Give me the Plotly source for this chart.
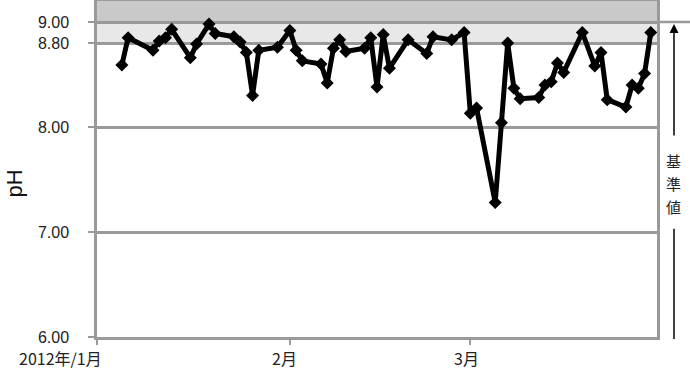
import plotly.graph_objects as go

dates = [
    "2012-01-05", "2012-01-06", "2012-01-10", "2012-01-11", "2012-01-12", "2012-01-13",
    "2012-01-16", "2012-01-17", "2012-01-19", "2012-01-20", "2012-01-23", "2012-01-24",
    "2012-01-25", "2012-01-26", "2012-01-27", "2012-01-30", "2012-02-01", "2012-02-02",
    "2012-02-03", "2012-02-06", "2012-02-07", "2012-02-08", "2012-02-09", "2012-02-10",
    "2012-02-13", "2012-02-14", "2012-02-15", "2012-02-16", "2012-02-17", "2012-02-20",
    "2012-02-23", "2012-02-24", "2012-02-27", "2012-02-29", "2012-03-01", "2012-03-02",
    "2012-03-05", "2012-03-06", "2012-03-07", "2012-03-08", "2012-03-09", "2012-03-12",
    "2012-03-13", "2012-03-14", "2012-03-15", "2012-03-16", "2012-03-19", "2012-03-21",
    "2012-03-22", "2012-03-23", "2012-03-26", "2012-03-27", "2012-03-28", "2012-03-29",
    "2012-03-30",
]
ph = [
    8.59, 8.85, 8.73, 8.82, 8.85, 8.93,
    8.66, 8.79, 8.98, 8.89, 8.86, 8.81,
    8.71, 8.30, 8.73, 8.76, 8.92, 8.73,
    8.63, 8.60, 8.42, 8.75, 8.83, 8.72,
    8.75, 8.85, 8.38, 8.88, 8.56, 8.83,
    8.70, 8.86, 8.83, 8.90, 8.13, 8.18,
    7.28, 8.04, 8.80, 8.37, 8.27, 8.28,
    8.40, 8.43, 8.61, 8.52, 8.90, 8.58,
    8.71, 8.26, 8.19, 8.40, 8.37, 8.51,
    8.90,
]

y_ticks = [6.0, 7.0, 8.0, 8.8, 9.0]
y_ticktext = ["6.00", "7.00", "8.00", "8.80", "9.00"]
month_ticks = ["2012-01-01", "2012-02-01", "2012-03-01"]
month_labels = ["2012年/1月", "2月", "3月"]
side_label = ["基", "準", "値"]

GRAY = "#9a9a9a"
FONT = "Noto Sans CJK JP"

fig = go.Figure()

# standard-value bands
fig.add_shape(type="rect", xref="paper", yref="y", x0=0, x1=1, y0=9.0, y1=9.2,
              fillcolor="#c9c9c9", line_width=0, layer="below")
fig.add_shape(type="rect", xref="paper", yref="y", x0=0, x1=1, y0=8.8, y1=9.0,
              fillcolor="#e8e8e8", line_width=0, layer="below")

fig.add_trace(go.Scatter(
    x=dates, y=ph, mode="lines+markers",
    line=dict(color="black", width=5),
    marker=dict(symbol="diamond", size=10, color="black"),
    showlegend=False, cliponaxis=False,
))

fig.update_layout(
    width=690, height=385,
    margin=dict(l=97, r=33, t=1, b=48, autoexpand=False),
    paper_bgcolor="white", plot_bgcolor="rgba(0,0,0,0)",
    font=dict(family=FONT, color="#222"),
    xaxis=dict(
        range=["2012-01-01", "2012-03-31"], type="date", automargin=False,
        tickvals=month_ticks, showticklabels=False,
        ticks="outside", ticklen=5, tickwidth=2, tickcolor=GRAY,
        showgrid=False, showline=True, linecolor=GRAY, linewidth=2.5, mirror=True,
        zeroline=False,
    ),
    yaxis=dict(
        range=[6.0, 9.2], tickvals=y_ticks, ticktext=y_ticktext, automargin=False,
        ticks="outside", ticklen=6, tickwidth=2, tickcolor=GRAY,
        tickfont=dict(family="Liberation Sans", size=16, color="#222"),
        ticklabelstandoff=16,
        showgrid=True, gridcolor=GRAY, gridwidth=2.5,
        showline=True, linecolor=GRAY, linewidth=2.5, mirror=True,
        zeroline=False,
    ),
)

# y-axis title
fig.add_annotation(x=-82 / 560, y=(336 - 183) / 335, xref="paper", yref="paper",
                   text="pH", showarrow=False, textangle=-90,
                   xanchor="center", yanchor="middle",
                   font=dict(family="Liberation Sans", size=22, color="#111"))

# x tick labels
shifts = [(7, "right"), (-5, "center"), (-4, "center")]
for d, lab, (sh, anc) in zip(month_ticks, month_labels, shifts):
    fig.add_annotation(x=d, y=0, xref="x", yref="paper", text=lab, showarrow=False,
                       xanchor=anc, yanchor="middle", xshift=sh, yshift=-21,
                       font=dict(family=FONT, size=16, color="#222"))

# extension of 9.00 line to the right
fig.add_shape(type="line", xref="paper", yref="y", x0=1, x1=1.06, y0=9.0, y1=9.0,
              line=dict(color=GRAY, width=2.5))

# 基準値 arrow and line
xr = (674 - 97) / 560
def py(p):
    return (336 - p) / 335

fig.add_annotation(x=xr, y=py(24), xref="paper", yref="paper", text="",
                   showarrow=True, ax=0, ay=113, arrowhead=2, arrowsize=1.2,
                   arrowwidth=1.5, arrowcolor="black")
fig.add_shape(type="line", xref="paper", yref="paper", x0=xr, x1=xr, y0=py(228), y1=py(338),
              line=dict(color="black", width=1.5))
for ch, yy in zip(side_label, [160, 183, 206]):
    fig.add_annotation(x=xr, y=py(yy), xref="paper", yref="paper",
                       text=ch, showarrow=False, xanchor="center", yanchor="middle",
                       font=dict(family=FONT, size=15, color="#222"))

fig.write_html("out.html")
